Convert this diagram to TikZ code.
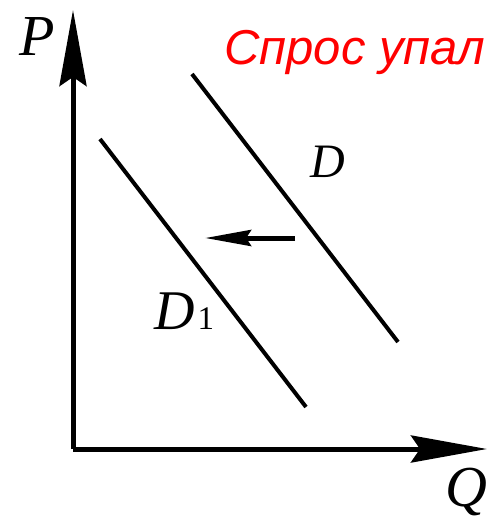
\documentclass[tikz,border=0pt]{standalone}
\usepackage{fontspec}
\setmainfont{Liberation Serif}
\newfontfamily\rusfont{Liberation Sans}
\usetikzlibrary{arrows.meta,positioning,calc}

\tikzset{
  axis/.style={line width=5pt,-{Stealth[length=76pt,width=27pt,inset=9pt]}},
  demand/.style={line width=4pt},
  shiftarrow/.style={line width=5pt,-{Stealth[length=46pt,width=16pt,inset=5pt]}},
  lab/.style={inner sep=0pt,font=\fontsize{58}{58}\selectfont\itshape}
}

\begin{document}
\begin{tikzpicture}[x=1pt,y=-1pt]
	\useasboundingbox (0,0) rectangle (487,524);
	% axes
	\coordinate (O) at (73,449);
	\coordinate (Ptop) at (73,10);
	\coordinate (Qend) at (487,449);
	\draw[axis] (O)--(Ptop);
	\draw[axis] (O)--(Qend);
	
	\node[lab] (P) at (37,37) {P};
	\node[lab] (Q) at (466,492) {Q};
	
	% old and new demand
	\coordinate (D0a) at (192,74);
	\coordinate (D0b) at (398,342);
	\coordinate (D1a) at (100,139);
	\coordinate (D1b) at (306,407);
	\draw[demand] (D0a)--(D0b);
	\draw[demand] (D1a)--(D1b);
	
	\node[lab,font=\fontsize{48}{48}\selectfont\itshape] (D) at (328,162) {D};
	\node[lab,font=\fontsize{56}{56}\selectfont\itshape] (Dnew) at (175,311) {D};
	\node[inner sep=0pt,font=\fontsize{33}{33}\selectfont,anchor=base west] (one) at ($(Dnew.base east)+(2,0)$) {1};
	
	% shift to the left
	\coordinate (Sa) at (295,238);
	\coordinate (Sb) at (205,238);
	\draw[shiftarrow] (Sa)--(Sb);
	
	\node[inner sep=0pt,anchor=base west,text=red,font=\rusfont\fontsize{49}{49}\selectfont\itshape] (title) at (224,65) {Спрос упал};
\end{tikzpicture}
\end{document}
